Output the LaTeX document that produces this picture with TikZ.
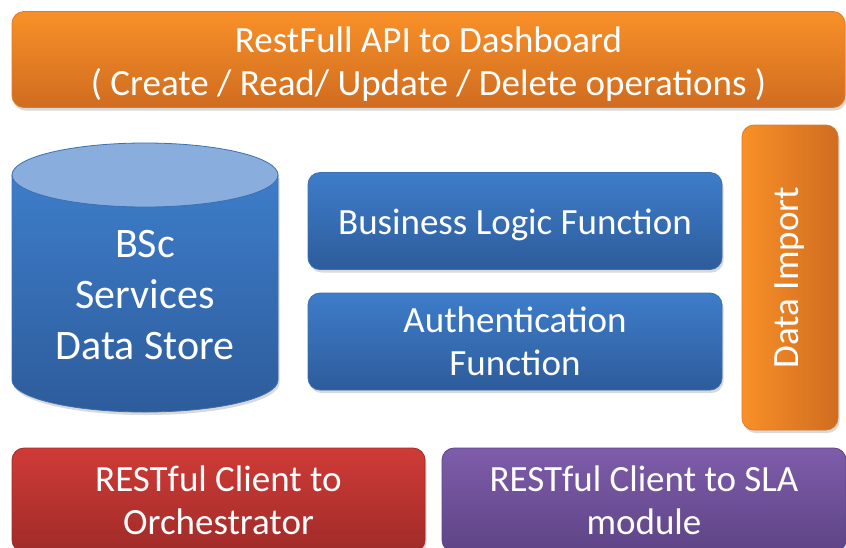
\documentclass[tikz,border=0pt]{standalone}
\usepackage{fontspec}
\setmainfont{Carlito}
\usetikzlibrary{shadows}
\definecolor{orTop}{HTML}{F99028}
\definecolor{orBot}{HTML}{CF6C20}
\definecolor{orEdge}{HTML}{E07A26}
\definecolor{blTop}{HTML}{3E7DCA}
\definecolor{blBot}{HTML}{2D5C9B}
\definecolor{blEdge}{HTML}{3A6FB0}
\definecolor{blLid}{HTML}{89AEDD}
\definecolor{rdTop}{HTML}{CF3B37}
\definecolor{rdBot}{HTML}{A02B28}
\definecolor{puTop}{HTML}{7E5CAA}
\definecolor{puBot}{HTML}{5E4486}
\tikzset{
  shbox/.style={rounded corners=12pt, inner sep=0pt, text=white, align=center,
    font=\fontsize{37}{43}\selectfont,
    drop shadow={opacity=0.3, shadow xshift=1.5pt, shadow yshift=-3pt}},
  bluebox/.style={shbox, draw=blEdge, line width=0.8pt, top color=blTop, bottom color=blBot,
    minimum width=414pt, minimum height=97pt},
}
\begin{document}
\begin{tikzpicture}[x=1pt,y=-1pt]
\useasboundingbox (0,0) rectangle (846,547);
% top bar
\node[shbox, draw=orEdge, line width=0.8pt, top color=orTop, bottom color=orBot,
  minimum width=833pt, minimum height=96pt] (api) at (428.5,59.5)
  {\raisebox{-6pt}[\height][\depth]{\begin{tabular}{@{}c@{}}RestFull API to Dashboard\\( Create / Read/ Update / Delete operations )\end{tabular}}};
% cylinder
\path[draw=blEdge, line width=0.8pt, top color=blTop, bottom color=blBot,
  drop shadow={opacity=0.3, shadow xshift=1.5pt, shadow yshift=-3pt}]
  (12,175) -- (12,380) arc[start angle=180, end angle=360, x radius=133pt, y radius=32pt]
  -- (278,175) -- cycle;
\draw[draw=blEdge, line width=0.8pt, fill=blLid] (145,175) ellipse [x radius=133pt, y radius=32pt];
\node[text=white, align=center, font=\fontsize{42}{51}\selectfont] (store) at (145,295)
  {BSc\\Services\\Data Store};
% blue function boxes
\node[bluebox] (biz) at (515,221) {\raisebox{-4pt}[\height][\depth]{Business Logic Function}};
\node[bluebox] (auth) at (515,341.5) {Authentication\\Function};
% data import
\node[shbox, draw=orEdge, line width=0.8pt, left color=orTop, right color=orBot,
  minimum width=96pt, minimum height=305pt] (imp) at (790,277.5)
  {\rotatebox{90}{Data Import}};
% bottom clients
\node[shbox, draw=rdBot, line width=0.8pt, top color=rdTop, bottom color=rdBot,
  minimum width=413pt, minimum height=104pt] (orch) at (218.5,500)
  {RESTful Client to\\Orchestrator};
\node[shbox, draw=puBot, line width=0.8pt, top color=puTop, bottom color=puBot,
  minimum width=404pt, minimum height=104pt] (sla) at (644,500)
  {RESTful Client to SLA\\module};
\end{tikzpicture}
\end{document}
